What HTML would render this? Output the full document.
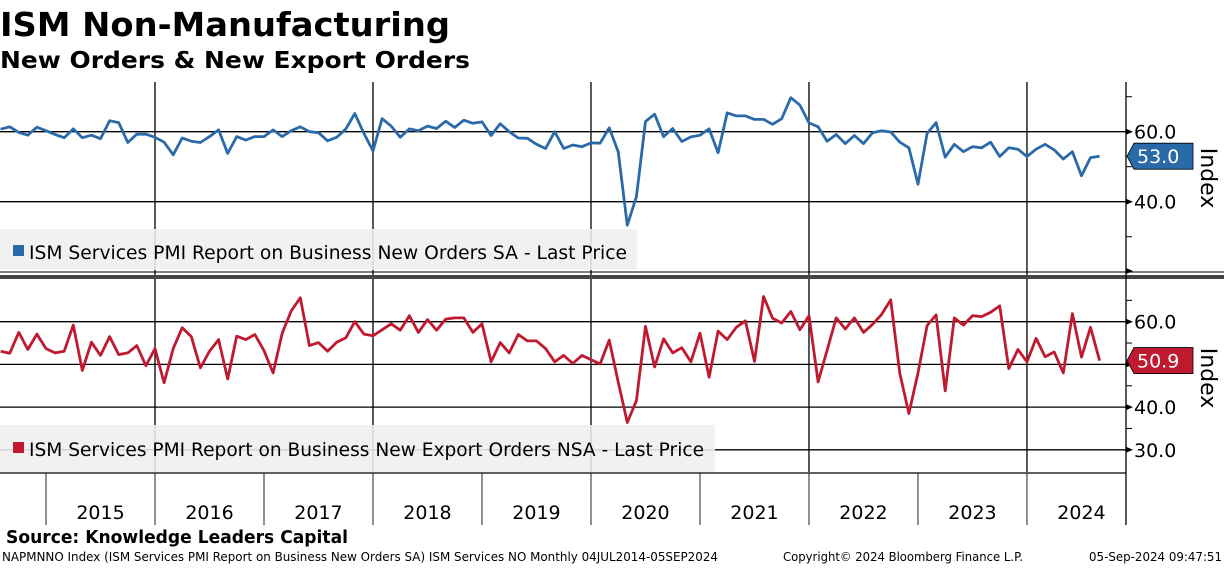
<!DOCTYPE html>
<html><head><meta charset="utf-8">
<style>
body{margin:0;background:#fff;width:1224px;height:566px;overflow:hidden;font-family:"DejaVu Sans","Liberation Sans",sans-serif;}
svg text{font-family:"DejaVu Sans","Liberation Sans",sans-serif;}
</style></head><body>
<svg id="chart" width="1224" height="566" viewBox="0 0 1224 566" xmlns="http://www.w3.org/2000/svg">
<text x="0" y="36" font-size="33" font-weight="bold" textLength="450" lengthAdjust="spacingAndGlyphs">ISM Non-Manufacturing</text>
<text x="0" y="68" font-size="23" font-weight="bold" textLength="470" lengthAdjust="spacingAndGlyphs">New Orders &amp; New Export Orders</text>
<g id="grid"></g>
<g id="series"></g>
<g id="axes"></g>
<text x="6" y="543" font-size="18" font-weight="bold" textLength="342" lengthAdjust="spacingAndGlyphs">Source: Knowledge Leaders Capital</text>
<text x="2" y="561" font-size="12" textLength="716" lengthAdjust="spacingAndGlyphs">NAPMNNO Index (ISM Services PMI Report on Business New Orders SA) ISM Services NO  Monthly 04JUL2014-05SEP2024</text>
<text x="783" y="561" font-size="12" textLength="240" lengthAdjust="spacingAndGlyphs">Copyright© 2024 Bloomberg Finance L.P.</text>
<text x="1089" y="561" font-size="12" textLength="133" lengthAdjust="spacingAndGlyphs">05-Sep-2024 09:47:51</text>
</svg>
<script>
const newOrders=[60.7,61.4,59.8,59.0,61.3,60.3,59.2,58.3,60.8,58.3,59.0,58.0,63.1,62.6,56.9,59.3,59.3,58.4,57.0,53.4,58.2,57.3,56.9,58.6,60.5,53.8,58.6,57.6,58.6,58.6,60.5,58.6,60.3,61.4,60.0,59.7,57.4,58.4,60.7,65.2,59.5,54.5,63.7,61.6,58.4,60.8,60.3,61.6,60.9,63.0,61.2,63.3,62.4,62.8,58.9,62.3,60.0,58.2,58.1,56.4,55.2,60.0,55.2,56.2,55.7,56.8,56.7,61.1,54.3,33.3,41.4,62.9,65.0,58.6,60.9,57.2,58.5,59.0,60.8,54.0,65.4,64.5,64.5,63.5,63.5,62.1,63.7,69.7,67.6,62.5,61.4,57.3,59.2,56.6,58.9,56.6,59.7,60.3,59.9,57.0,55.4,45.0,59.5,62.6,52.7,56.4,54.3,55.7,55.4,57.0,52.9,55.4,55.0,52.9,55.0,56.4,54.8,52.2,54.3,47.4,52.6,53.0];
const exportOrders=[53.1,52.6,57.5,53.5,57.1,53.7,52.7,53.1,59.2,48.6,55.2,52.1,56.5,52.3,52.7,54.4,49.7,53.7,45.7,53.7,58.6,56.5,49.2,53.1,55.8,46.6,56.6,55.8,57.0,53.2,48.0,57.3,62.5,65.6,54.4,55.1,53.1,55.2,56.2,60.0,57.1,56.7,58.1,59.5,58.0,61.4,57.5,60.5,58.0,60.6,60.9,60.9,57.5,59.5,50.6,55.1,52.7,57.0,55.5,55.5,53.7,50.6,52.1,50.2,52.1,51.1,50.1,55.7,45.9,36.4,41.5,58.9,49.4,56.0,52.7,53.9,50.6,57.3,47.0,57.8,55.8,58.7,60.2,50.7,65.9,60.8,59.7,62.4,58.1,61.4,45.9,53.3,60.9,58.3,60.9,57.5,59.4,61.7,65.1,47.9,38.5,48.0,59.1,61.6,43.8,60.9,59.2,61.4,61.2,62.2,63.7,49.0,53.5,50.6,56.1,51.8,52.9,48.0,61.9,51.7,58.7,50.9];
const years=["2015","2016","2017","2018","2019","2020","2021","2022","2023","2024"];
const topTicks=[60,40];
const bottomTicks=[60,50,40,30];
const legendTop="ISM Services PMI Report on Business New Orders SA - Last Price";
const legendBottom="ISM Services PMI Report on Business New Export Orders NSA - Last Price";

const NS="http://www.w3.org/2000/svg";
const MONTH=9.083, AXX=1126;
function xi(i){return 155+(i-17)*MONTH;}
function xYear(k){return 46+k*MONTH*12;}
function yTop(v){return 131.7+(60-v)*3.5;}
function yBot(v){return 321.7+(60-v)*4.27;}
function mk(tag,attrs,parent){const e=document.createElementNS(NS,tag);for(const k in attrs)e.setAttribute(k,attrs[k]);parent.appendChild(e);return e;}
const grid=document.getElementById('grid'),ser=document.getElementById('series'),ax=document.getElementById('axes');

topTicks.forEach(v=>{const l=mk('line',{x1:0,x2:AXX,y1:yTop(v),y2:yTop(v),stroke:'#000','stroke-width':1.3},grid);

});
bottomTicks.forEach(v=>{const l=mk('line',{x1:0,x2:AXX,y1:yBot(v),y2:yBot(v),stroke:'#000','stroke-width':1.3},grid);

});
years.forEach((y,k)=>{if(k%2===1){const x=xYear(k);
const l=mk('line',{x1:x,x2:x,y1:82,y2:472,stroke:'#000','stroke-width':1.3},grid);

}});

// legend boxes (semi-transparent over grid)
let lb=mk('rect',{x:0,y:229,width:637,height:41,fill:'#efefef','fill-opacity':0.88},grid);


lb=mk('rect',{x:0,y:425,width:715,height:47,fill:'#efefef','fill-opacity':0.88},grid);



function path(arr,yf){return arr.map((v,i)=>(i?'L':'M')+xi(i).toFixed(1)+','+yf(v).toFixed(1)).join(' ');}
let p=mk('path',{d:path(newOrders,yTop),fill:'none',stroke:'#2b6aa8','stroke-width':2.8,'stroke-linejoin':'round'},ser);


p=mk('path',{d:path(exportOrders,yBot),fill:'none',stroke:'#bf1a30','stroke-width':2.8,'stroke-linejoin':'round'},ser);



let t=mk('rect',{x:13,y:245,width:11,height:11,fill:'#2b6aa8'},ax);


t=mk('text',{x:29,y:259,'font-size':19,textLength:598,lengthAdjust:'spacingAndGlyphs'},ax);t.textContent=legendTop;


t=mk('rect',{x:13,y:442,width:11,height:11,fill:'#bf1a30'},ax);


t=mk('text',{x:29,y:456,'font-size':19,textLength:675,lengthAdjust:'spacingAndGlyphs'},ax);t.textContent=legendBottom;



t=mk('line',{x1:0,x2:1224,y1:272,y2:272,stroke:'#000','stroke-width':1},ax);


t=mk('rect',{x:0,y:275,width:1224,height:4,fill:'#444'},ax);


t=mk('line',{x1:AXX,x2:AXX,y1:82,y2:525,stroke:'#000','stroke-width':1.3},ax);


t=mk('line',{x1:0,x2:AXX,y1:473,y2:473,stroke:'#000','stroke-width':1.3},ax);


[70,50,30].forEach(v=>{const l=mk('line',{x1:AXX,x2:AXX+6,y1:yTop(v),y2:yTop(v),stroke:'#000'},ax);

});
[65,55,45,35].forEach(v=>{const l=mk('line',{x1:AXX,x2:AXX+6,y1:yBot(v),y2:yBot(v),stroke:'#000'},ax);

});
function arrow(y){const a=mk('path',{d:`M${AXX},${y-3} L${AXX+7},${y} L${AXX},${y+3}Z`,fill:'#000'},ax);

}
topTicks.forEach(v=>{arrow(yTop(v));const tx=mk('text',{x:1134,y:yTop(v)+7,'font-size':19},ax);tx.textContent=v.toFixed(1);

});
arrow(271);
bottomTicks.forEach(v=>{arrow(yBot(v));if(v!==50){const tx=mk('text',{x:1134,y:yBot(v)+7,'font-size':19},ax);tx.textContent=v.toFixed(1);

}});
function badge(v,y,color,name){const g=mk('g',{},ax);


mk('path',{d:`M1127,${y} L1134,${y-13} L1193,${y-13} L1193,${y+13} L1134,${y+13}Z`,fill:color,stroke:'#000','stroke-width':0.8},g);
const tx=mk('text',{x:1137,y:y+7,'font-size':19,fill:'#fff'},g);tx.textContent=v.toFixed(1);}
badge(newOrders[newOrders.length-1],yTop(newOrders[newOrders.length-1]),'#2b6aa8','last-value-new-orders');
badge(exportOrders[exportOrders.length-1],yBot(exportOrders[exportOrders.length-1]),'#bf1a30','last-value-export-orders');
[[178,'top-y-axis-title'],[378,'bottom-y-axis-title']].forEach(([y,n])=>{const tx=mk('text',{x:0,y:0,'font-size':22,'text-anchor':'middle',transform:`translate(1201,${y}) rotate(90)`},ax);tx.textContent='Index';

});
years.forEach((y,k)=>{const x=xYear(k);
const l=mk('line',{x1:x,x2:x,y1:473,y2:525,stroke:'#222','stroke-width':1},ax);


const tx=mk('text',{x:x+54.5,y:519,'font-size':19,'text-anchor':'middle'},ax);tx.textContent=y;

});
</script>
</body></html>
